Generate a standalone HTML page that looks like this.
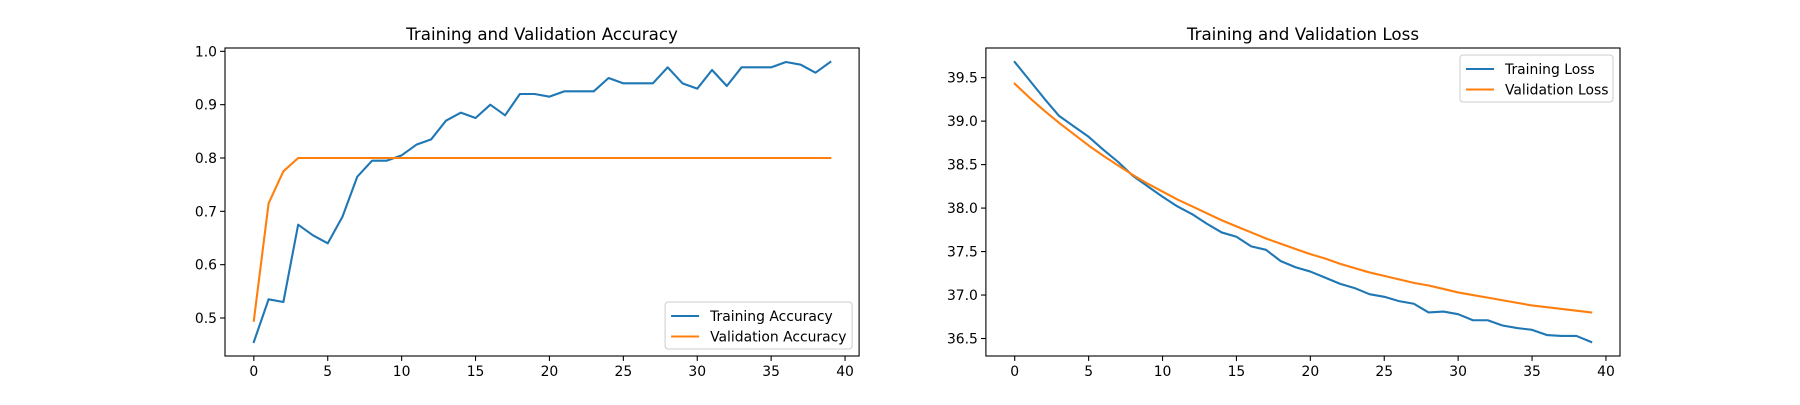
<!DOCTYPE html>
<html><head><meta charset="utf-8"><style>
body{margin:0;background:#fff}
svg text{font-family:"DejaVu Sans","Liberation Sans",sans-serif;fill:#000}
</style></head><body>
<svg id="fig" width="1800" height="400" xmlns="http://www.w3.org/2000/svg"></svg>
<script>
const epochs = Array.from({length:40},(_,i)=>i);
const trainAcc = [0.455,0.535,0.53,0.675,0.655,0.64,0.69,0.765,0.795,0.795,0.805,0.825,0.835,0.87,0.885,0.875,0.9,0.88,0.92,0.92,0.915,0.925,0.925,0.925,0.95,0.94,0.94,0.94,0.97,0.94,0.93,0.965,0.935,0.97,0.97,0.97,0.98,0.975,0.96,0.98];
const valAcc = [0.495,0.715,0.775,0.8,0.8,0.8,0.8,0.8,0.8,0.8,0.8,0.8,0.8,0.8,0.8,0.8,0.8,0.8,0.8,0.8,0.8,0.8,0.8,0.8,0.8,0.8,0.8,0.8,0.8,0.8,0.8,0.8,0.8,0.8,0.8,0.8,0.8,0.8,0.8,0.8];
const trainLoss = [39.68,39.47,39.26,39.06,38.94,38.82,38.67,38.53,38.37,38.25,38.13,38.02,37.93,37.82,37.72,37.67,37.56,37.52,37.39,37.32,37.27,37.20,37.13,37.08,37.01,36.98,36.93,36.90,36.80,36.81,36.78,36.71,36.71,36.65,36.62,36.60,36.54,36.53,36.53,36.46];
const valLoss = [39.43,39.27,39.12,38.98,38.85,38.72,38.60,38.49,38.38,38.28,38.19,38.10,38.02,37.94,37.86,37.79,37.72,37.65,37.59,37.53,37.47,37.42,37.36,37.31,37.26,37.22,37.18,37.14,37.11,37.07,37.03,37.00,36.97,36.94,36.91,36.88,36.86,36.84,36.82,36.80];
const xTicks = [0,5,10,15,20,25,30,35,40];
const accTicks = [0.5,0.6,0.7,0.8,0.9,1.0];
const lossTicks = [36.5,37.0,37.5,38.0,38.5,39.0,39.5];

const NS="http://www.w3.org/2000/svg", svg=document.getElementById('fig');
function mk(tag,attrs,parent){const e=document.createElementNS(NS,tag);for(const k in attrs)e.setAttribute(k,attrs[k]);(parent||svg).appendChild(e);return e;}
function chart(o){
  const g=mk('g',{});
  
  
  const L=o.left,R=o.left+634.1,T=48,B=356;
  const all=o.series.flatMap(s=>s.data);
  const mn=Math.min(...all),mx=Math.max(...all),pad=(mx-mn)*0.05;
  const y0=mn-pad,y1=mx+pad,x0=-1.95,x1=40.95;
  const sx=v=>L+(v-x0)/(x1-x0)*(R-L), sy=v=>B-(v-y0)/(y1-y0)*(B-T);
  const t=mk('text',{x:(L+R)/2,y:T-8,'text-anchor':'middle','font-size':'16.7'},g);t.textContent=o.title;
  
  xTicks.forEach(v=>{const x=sx(v);mk('line',{x1:x,x2:x,y1:B,y2:B+4.9,stroke:'#000','stroke-width':1.1},g);
    const tx=mk('text',{x:x,y:B+20,'text-anchor':'middle','font-size':'13.9'},g);tx.textContent=v;
    });
  o.yTicks.forEach(v=>{const y=sy(v);mk('line',{x1:L-4.9,x2:L,y1:y,y2:y,stroke:'#000','stroke-width':1.1},g);
    const ty=mk('text',{x:L-8,y:y+5,'text-anchor':'end','font-size':'13.9'},g);ty.textContent=v.toFixed(1);
    });
  o.series.forEach(s=>{const p=mk('polyline',{points:s.data.map((v,i)=>sx(epochs[i])+','+sy(v)).join(' '),fill:'none',stroke:s.color,'stroke-width':2.1,'stroke-linejoin':'round','stroke-linecap':'square'},g);
    });
  const fr=mk('rect',{x:L,y:T,width:R-L,height:B-T,fill:'none',stroke:'#000','stroke-width':1.1},g);
  
  const lw=o.legW,lh=47,lx=R-lw-7,ly=o.legTop?T+7:B-lh-7;
  const lg=mk('g',{},g);
  mk('rect',{x:lx,y:ly,width:lw,height:lh,rx:3,fill:'#fff','fill-opacity':0.8,stroke:'#ccc','stroke-width':1},lg);
  o.series.forEach((s,i)=>{const yy=ly+14+i*20.5;
    mk('line',{x1:lx+6,x2:lx+34,y1:yy,y2:yy,stroke:s.color,'stroke-width':2.1},lg);
    const tt=mk('text',{x:lx+45,y:yy+5,'font-size':'13.9'},lg);tt.textContent=s.label;
    });
}
chart({name:'accuracy-chart',left:225,title:'Training and Validation Accuracy',yTicks:accTicks,legTop:false,legW:187,
  series:[{id:'training-accuracy-line',label:'Training Accuracy',data:trainAcc,color:'#1f77b4'},{id:'validation-accuracy-line',label:'Validation Accuracy',data:valAcc,color:'#ff7f0e'}]});
chart({name:'loss-chart',left:985.9,title:'Training and Validation Loss',yTicks:lossTicks,legTop:true,legW:153,
  series:[{id:'training-loss-line',label:'Training Loss',data:trainLoss,color:'#1f77b4'},{id:'validation-loss-line',label:'Validation Loss',data:valLoss,color:'#ff7f0e'}]});
</script>
</body></html>
